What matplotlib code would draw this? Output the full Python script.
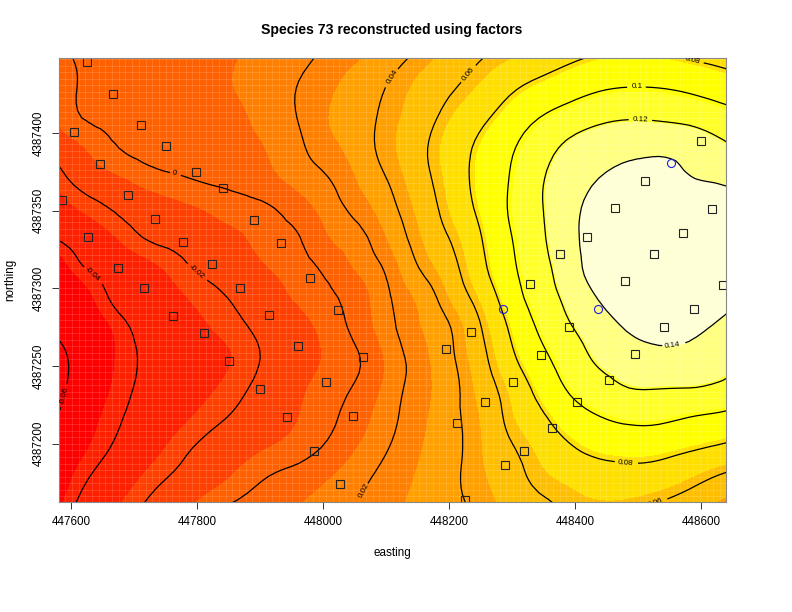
import numpy as np
import matplotlib
matplotlib.use("Agg")
import matplotlib.pyplot as plt
import matplotlib.tri as mtri

plt.rcParams['font.family'] = ['Liberation Sans', 'DejaVu Sans']

title = "Species 73 reconstructed using factors"
heat_colors = ["#FF0000", "#FF2000", "#FF4000", "#FF6000", "#FF8000", "#FF9F00",
               "#FFBF00", "#FFDF00", "#FFFF00", "#FFFF2A", "#FFFF80", "#FFFFD5"]
band_edges = [-0.0635, -0.045, -0.0265, -0.008, 0.0105, 0.029, 0.0475,
              0.066, 0.083, 0.103, 0.1215, 0.14, 0.1585]
contour_levels = [-0.06, -0.04, -0.02, 0, 0.02, 0.04, 0.06, 0.08, 0.1, 0.12, 0.14]

grid_east = 447580.2 + 47.62 * np.arange(24)
grid_north = 4387448.5 - 19.33 * np.arange(16)

r00 = [-.002,.002,.004,.006,.007,.008,.0105,.013,.017,.023,.028,.035,.043,.051,.059,.065,.071,.077,.082,.084,.083,.079,.075,.070]
r01 = [-.004,.002,.004,.005,.006,.008,.011,.015,.0205,.027,.034,.041,.05,.058,.067,.077,.085,.092,.098,.1005,.1,.097,.092,.087]
r02 = [-.006,.001,.003,.005,.006,.007,.009,.014,.0205,.029,.035,.044,.053,.065,.076,.088,.1,.109,.116,.119,.118,.115,.109,.103]
r03 = [-.015,-.007,.0,.004,.006,.007,.008,.011,.018,.026,.034,.045,.056,.07,.083,.097,.111,.124,.131,.135,.136,.133,.125,.115]
r04 = [-.023,-.014,-.009,-.004,-.001,.002,.004,.008,.014,.02,.03,.041,.054,.069,.085,.1,.117,.13,.14,.146,.148,.141,.137,.13]
r05 = [-.031,-.024,-.018,-.013,-.01,-.007,-.004,-.001,.006,.015,.024,.036,.05,.066,.083,.101,.118,.133,.148,.153,.155,.155,.151,.147]
r06 = [-.039,-.033,-.026,-.019,-.016,-.012,-.009,-.005,-.0005,.01,.017,.03,.046,.06,.078,.098,.116,.134,.149,.155,.157,.157,.155,.15]
r07 = [-.05,-.039,-.034,-.029,-.023,-.017,-.013,-.008,-.004,.003,.012,.023,.04,.054,.074,.095,.113,.131,.149,.155,.157,.157,.154,.15]
r08 = [-.058,-.047,-.037,-.032,-.028,-.023,-.018,-.012,-.007,-.002,.006,.019,.031,.047,.066,.089,.109,.125,.141,.151,.155,.154,.148,.14]
r09 = [-.058,-.051,-.043,-.036,-.032,-.027,-.022,-.016,-.011,-.005,.004,.017,.028,.039,.058,.081,.102,.118,.131,.142,.148,.145,.137,.128]
r10 = [-.063,-.053,-.044,-.038,-.033,-.03,-.025,-.018,-.012,-.007,-.0005,.013,.025,.037,.054,.075,.094,.11,.123,.13,.134,.134,.128,.12]
r11 = [-.0625,-.052,-.043,-.037,-.032,-.028,-.022,-.016,-.01,-.004,.002,.014,.025,.035,.05,.067,.085,.102,.113,.12,.1205,.12,.117,.11]
r12 = [-.059,-.048,-.041,-.034,-.029,-.023,-.018,-.013,-.008,-.002,.006,.017,.026,.036,.047,.063,.076,.09,.099,.104,.104,.0995,.096,.09]
r13 = [-.053,-.045,-.038,-.031,-.023,-.017,-.012,-.008,-.004,.002,.011,.02,.028,.036,.046,.058,.068,.078,.085,.087,.086,.082,.078,.073]
r14 = [-.05,-.04,-.033,-.024,-.018,-.012,-.006,.0005,.004,.01,.017,.024,.03,.037,.045,.054,.063,.068,.072,.074,.072,.066,.058,.052]
r15 = [-.046,-.035,-.026,-.018,-.011,-.003,.003,.006,.011,.016,.021,.026,.032,.037,.042,.05,.056,.062,.064,.062,.057,.051,.045,.04]
field = np.array([r00, r01, r02, r03, r04, r05, r06, r07, r08, r09, r10, r11, r12, r13, r14, r15])

square_east = [447625,447666,447710,447750,447604,447645,447690,447798,447841,447585,447733,447890,
               447626,447777,447933,447674,447823,447979,447715,447868,447761,447914,448023,447810,
               447960,447850,448063,447899,448004,447942,448047,447985,448026,
               448194,448234,448225,448256,448212,448301,448288,448318,448345,448363,448402,448390,
               448328,448375,448418,448453,448494,448540,448588,448479,448525,448571,448634,448463,
               448510,448617,448599]
square_north = [4387446,4387425,4387405,4387392,4387401,4387380,4387360,4387375,4387365,4387357,4387345,4387344,
                4387333,4387330,4387329,4387313,4387316,4387307,4387300,4387300,4387282,4387283,4387286,4387271,
                4387263,4387253,4387256,4387235,4387240,4387217,4387218,4387195,4387174,
                4387261,4387272,4387164,4387227,4387213,4387240,4387186,4387195,4387257,4387210,4387227,4387275,
                4387303,4387322,4387333,4387241,4387258,4387275,4387287,4387305,4387322,4387336,4387302,4387352,
                4387369,4387351,4387395]
circle_east = [448552, 448285, 448436]
circle_north = [4387381, 4387287, 4387287]

label_spots = [(447590,4387231),(447633,4387309),(447799,4387311),(447763,4387374),(448063,4387170),
               (448113,4387436),(448228,4387439),(448585,4387446),(448479,4387188),(448521,4387168),
               (448498,4387429),(448503,4387407),(448553,4387265)]

x_ticks = [447600, 447800, 448000, 448200, 448400, 448600]
y_ticks = [4387200, 4387250, 4387300, 4387350, 4387400]

W, H = 792, 612
fig = plt.figure(figsize=(W/100, H/100), dpi=100)
ax = fig.add_axes([58.7/W, 1-502.3/H, (726-58.7)/W, (502.3-58.3)/H])

# regular triangulation of the read grid, smoothed for contouring by matplotlib's refiner
ny, nx = field.shape
gx, gy = np.meshgrid(grid_east - 448000, grid_north - 4387300)
tris = []
for j in range(ny - 1):
    for i in range(nx - 1):
        a = j * nx + i
        tris.append([a, a + 1, a + nx])
        tris.append([a + 1, a + nx + 1, a + nx])
tri = mtri.Triangulation(gx.ravel(), gy.ravel(), np.array(tris))
refiner = mtri.UniformTriRefiner(tri)
fine_tri, fine_field = refiner.refine_field(field.ravel(), subdiv=2)
fine_tri = mtri.Triangulation(fine_tri.x + 448000, fine_tri.y + 4387300, fine_tri.triangles)

ax.tricontourf(fine_tri, fine_field, levels=band_edges, colors=heat_colors, extend='both')
# seams between image cells
for v in np.arange(447580, 448640, 10.6):
    ax.axvline(v, color='white', lw=0.6, alpha=0.16)
for v in np.arange(4387162, 4387449, 4.2):
    ax.axhline(v, color='white', lw=0.6, alpha=0.16)

cs = ax.tricontour(fine_tri, fine_field, levels=contour_levels, colors='black', linewidths=0.9,
                   linestyles='solid')
ax.clabel(cs, manual=label_spots, fmt=lambda v: f"{v:g}", fontsize=5.8, inline=True, inline_spacing=3)

ax.plot(square_east, square_north, ls='none', marker='s', ms=6.3, mfc='none', mec='#222222', mew=0.8)
ax.plot(circle_east, circle_north, ls='none', marker='o', ms=5.8, mfc='none', mec='#2020e0', mew=0.8)

ax.set_xlim(447580, 448639)
ax.set_ylim(4387162.2, 4387448.3)
ax.set_xticks(x_ticks)
ax.set_xticklabels([str(v) for v in x_ticks], fontsize=8.4)
ax.set_yticks(y_ticks)
ax.set_yticklabels([str(v) for v in y_ticks], fontsize=8.4, rotation=90, va='center')
ax.tick_params(length=5.2, width=0.7, color='#333333', pad=5)
for s in ax.spines.values():
    s.set_color('#888888')
    s.set_linewidth(0.8)

fig.text(392/W, 1-30/H, title, fontsize=10.1, fontweight='bold', ha='center', va='center')
fig.text(392/W, 1-553/H, "easting", fontsize=8.4, ha='center', va='center')
fig.text(10/W, 1-280/H, "northing", fontsize=8.4, rotation=90, ha='center', va='center')

fig.savefig("out.png", dpi=100)
